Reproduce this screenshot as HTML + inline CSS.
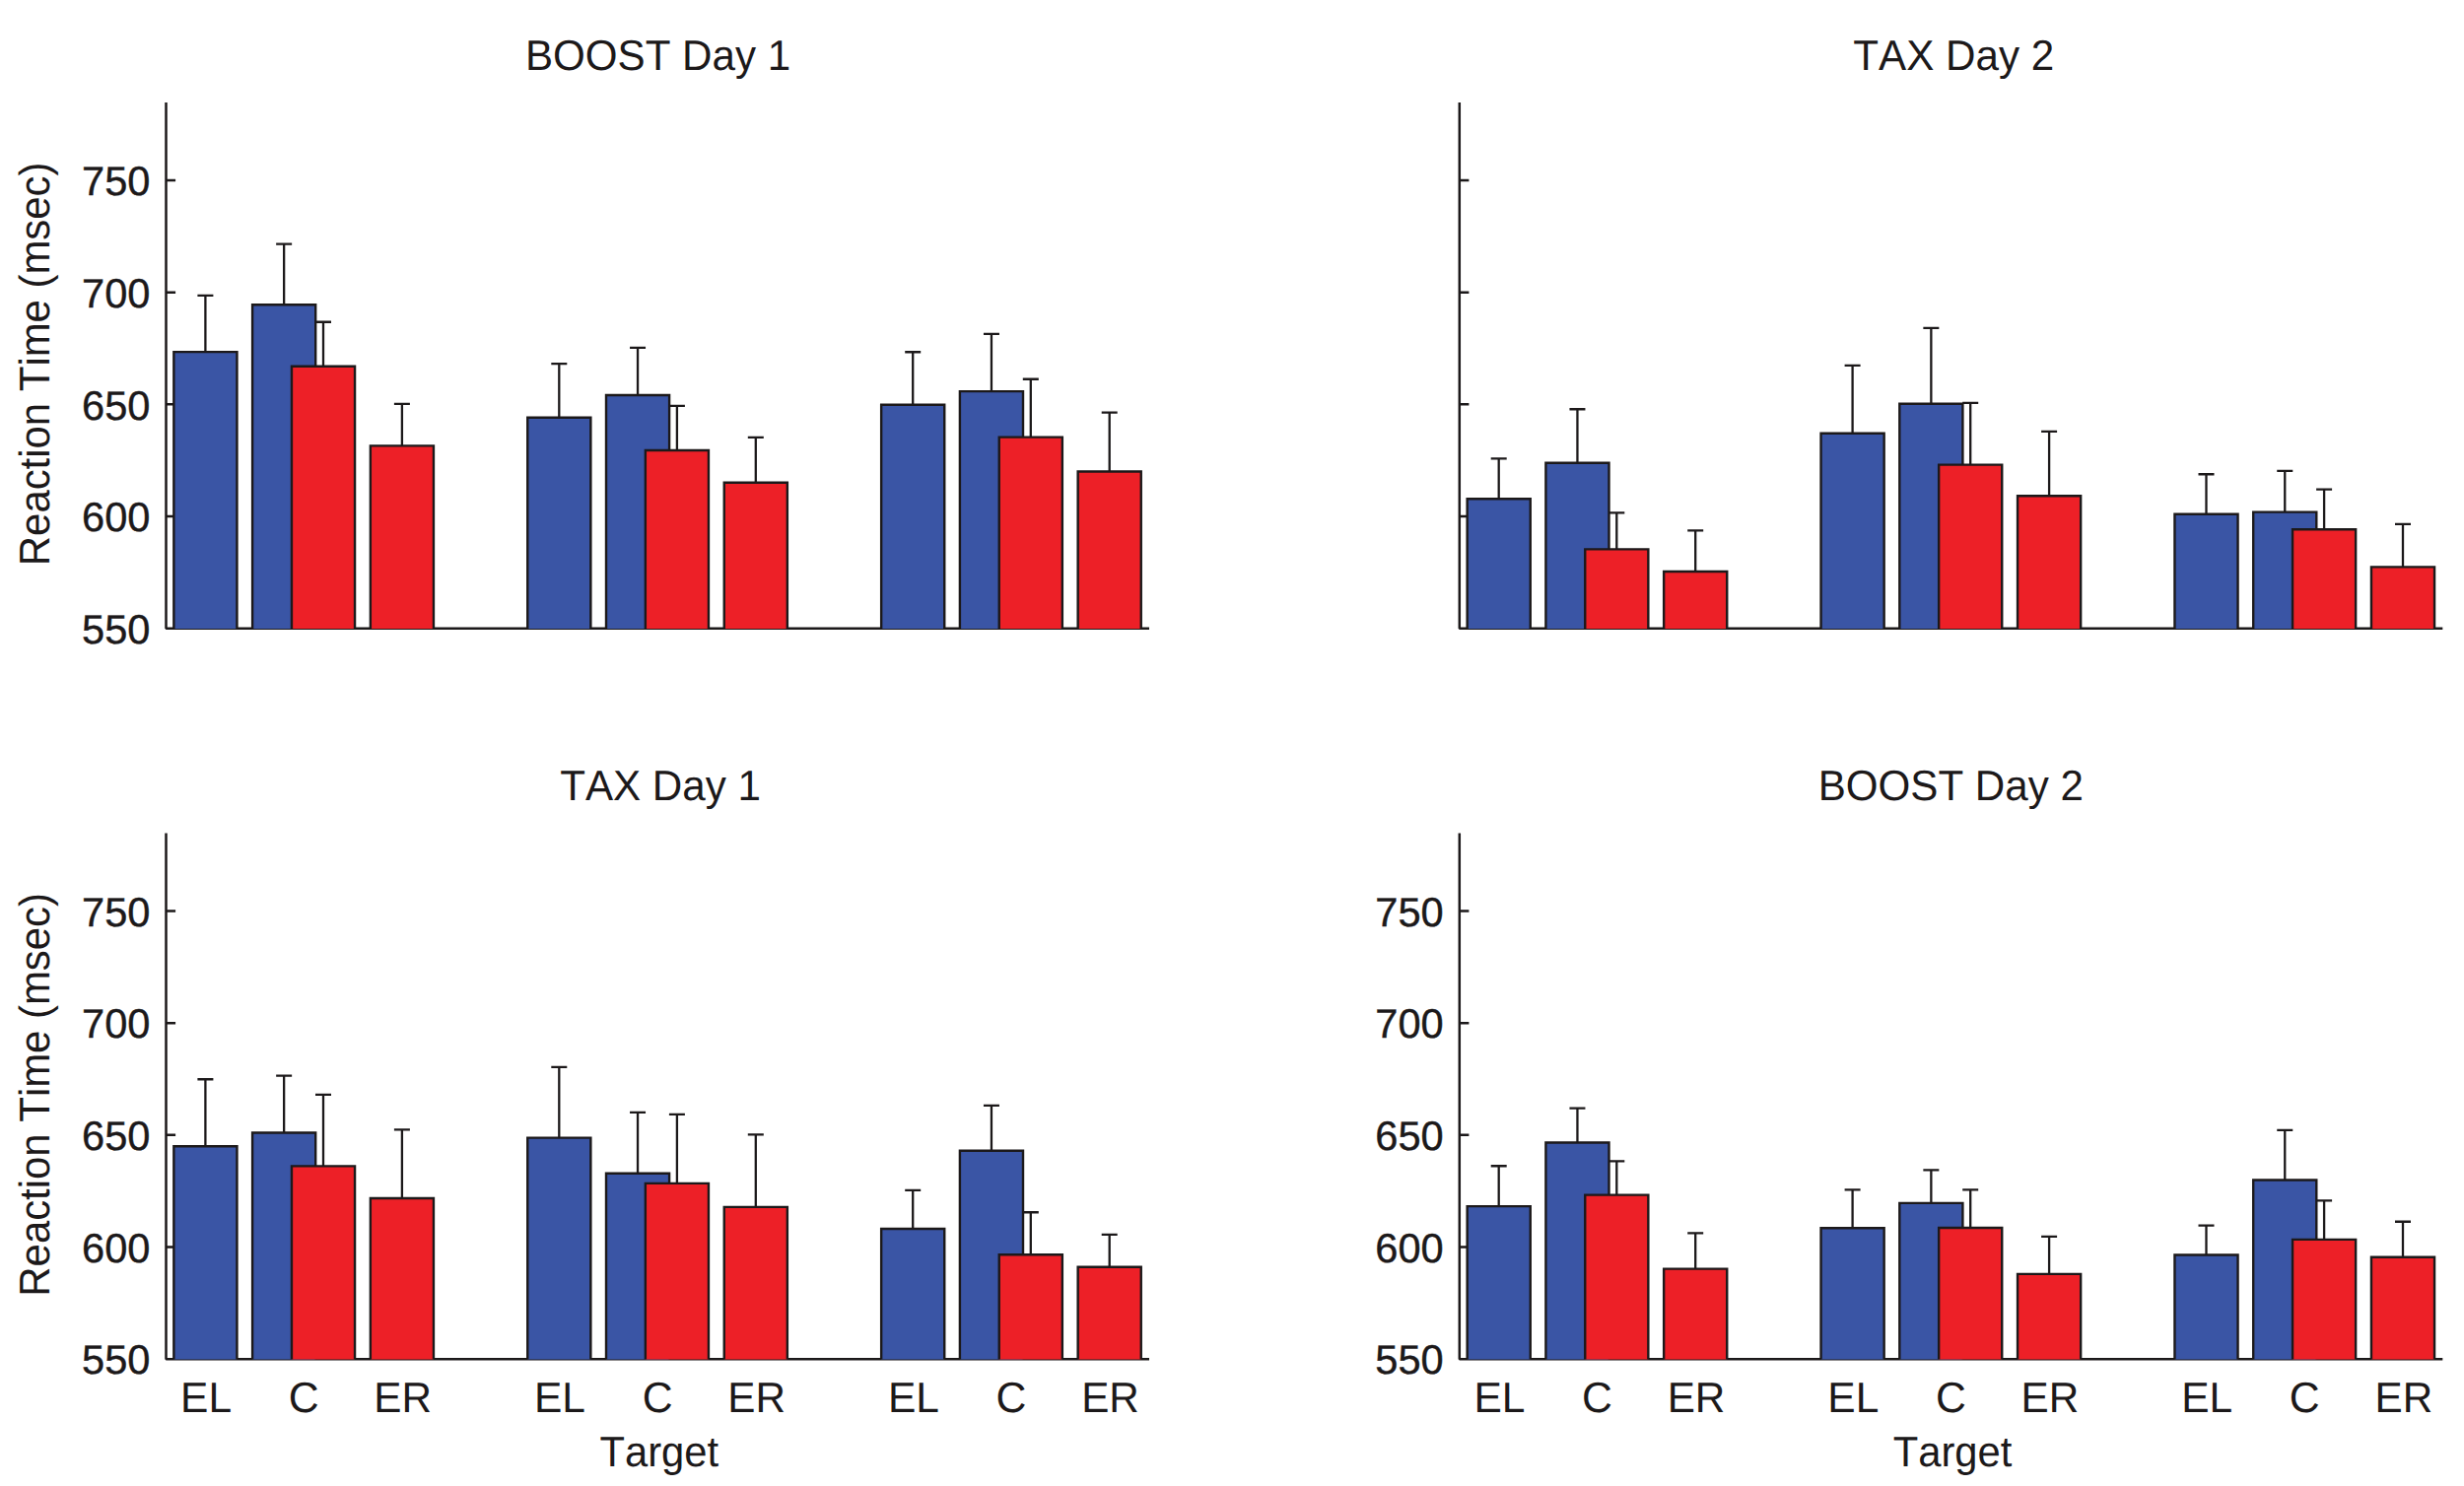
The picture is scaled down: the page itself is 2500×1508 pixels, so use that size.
<!DOCTYPE html>
<html lang="en"><head><meta charset="utf-8"><title>Reaction Time by Target</title>
<style>html,body{margin:0;padding:0;background:#fff}body{width:2500px;height:1508px;overflow:hidden}svg{display:block}text{font-family:"Liberation Sans",sans-serif;fill:#1c191a;stroke:#1c191a;stroke-width:0.5px;font-kerning:none;text-rendering:geometricPrecision}.l{font-size:43.4px;stroke-width:0px}.d{font-size:41.6px;stroke-width:0.4px}.ax{stroke:#1c191a;stroke-width:2.5;fill:none;stroke-linecap:butt;stroke-linejoin:bevel}.tk{stroke:#1c191a;stroke-width:2.4;fill:none}.b{fill:#3a55a5;stroke:#1c191a;stroke-width:2.4;stroke-linejoin:miter}.r{fill:#ed2027;stroke:#1c191a;stroke-width:2.4;stroke-linejoin:miter}.e{stroke:#1c191a;stroke-width:2.3;fill:none}</style></head><body>
<svg width="2500" height="1508" viewBox="0 0 2500 1508">
<rect width="2500" height="1508" fill="#fff"/>
<g>
<path class="ax" d="M168.5 103.9 V637.7 H1166"/>
<path class="tk" d="M168.5 183h9.6M168.5 296.7h9.6M168.5 410.3h9.6M168.5 524h9.6"/>
<path class="e" d="M208.4 357.1V299.95M200.4 299.95h16"/>
<path class="b" d="M176.35 638.1V357.1H240.45V638.1"/>
<path class="e" d="M567.3 423.8V369.15M559.3 369.15h16"/>
<path class="b" d="M535.25 638.1V423.8H599.35V638.1"/>
<path class="e" d="M926.2 410.7V357.25M918.2 357.25h16"/>
<path class="b" d="M894.15 638.1V410.7H958.25V638.1"/>
<path class="e" d="M288.15 309.2V247.55M280.15 247.55h16"/>
<path class="b" d="M256.1 638.1V309.2H320.2V638.1"/>
<path class="e" d="M647.05 401V352.85M639.05 352.85h16"/>
<path class="b" d="M615 638.1V401H679.1V638.1"/>
<path class="e" d="M1005.95 397.1V338.95M997.95 338.95h16"/>
<path class="b" d="M973.9 638.1V397.1H1038V638.1"/>
<path class="e" d="M328 371.8V326.75M320 326.75h16"/>
<path class="r" d="M295.95 638.1V371.8H360.05V638.1"/>
<path class="e" d="M686.9 457V411.85M678.9 411.85h16"/>
<path class="r" d="M654.85 638.1V457H718.95V638.1"/>
<path class="e" d="M1045.8 443.6V384.75M1037.8 384.75h16"/>
<path class="r" d="M1013.75 638.1V443.6H1077.85V638.1"/>
<path class="e" d="M407.9 452.4V409.85M399.9 409.85h16"/>
<path class="r" d="M375.85 638.1V452.4H439.95V638.1"/>
<path class="e" d="M766.8 489.7V443.95M758.8 443.95h16"/>
<path class="r" d="M734.75 638.1V489.7H798.85V638.1"/>
<path class="e" d="M1125.7 478.5V418.65M1117.7 418.65h16"/>
<path class="r" d="M1093.65 638.1V478.5H1157.75V638.1"/>
<text class="l" transform="translate(667.52 70.9) scale(0.9709 1)" text-anchor="middle">BOOST Day 1</text>
<text class="d" transform="translate(152.45 198.2) scale(1 1)" text-anchor="end">750</text>
<text class="d" transform="translate(152.45 311.9) scale(1 1)" text-anchor="end">700</text>
<text class="d" transform="translate(152.45 425.5) scale(1 1)" text-anchor="end">650</text>
<text class="d" transform="translate(152.45 539.2) scale(1 1)" text-anchor="end">600</text>
<text class="d" transform="translate(152.45 652.9) scale(1 1)" text-anchor="end">550</text>
<text class="l" transform="translate(49.5 369.34) rotate(-90) scale(0.9654 1)" text-anchor="middle">Reaction Time (msec)</text>
</g>
<g>
<path class="ax" d="M1480.8 103.9 V637.7 H2478.3"/>
<path class="tk" d="M1480.8 183h9.6M1480.8 296.7h9.6M1480.8 410.3h9.6M1480.8 524h9.6"/>
<path class="e" d="M1520.7 506.2V465.45M1512.7 465.45h16"/>
<path class="b" d="M1488.65 638.1V506.2H1552.75V638.1"/>
<path class="e" d="M1879.6 439.7V370.85M1871.6 370.85h16"/>
<path class="b" d="M1847.55 638.1V439.7H1911.65V638.1"/>
<path class="e" d="M2238.5 521.8V481.25M2230.5 481.25h16"/>
<path class="b" d="M2206.45 638.1V521.8H2270.55V638.1"/>
<path class="e" d="M1600.45 469.7V415.25M1592.45 415.25h16"/>
<path class="b" d="M1568.4 638.1V469.7H1632.5V638.1"/>
<path class="e" d="M1959.35 409.8V332.85M1951.35 332.85h16"/>
<path class="b" d="M1927.3 638.1V409.8H1991.4V638.1"/>
<path class="e" d="M2318.25 519.6V477.85M2310.25 477.85h16"/>
<path class="b" d="M2286.2 638.1V519.6H2350.3V638.1"/>
<path class="e" d="M1640.3 557.4V520.45M1632.3 520.45h16"/>
<path class="r" d="M1608.25 638.1V557.4H1672.35V638.1"/>
<path class="e" d="M1999.2 471.6V408.85M1991.2 408.85h16"/>
<path class="r" d="M1967.15 638.1V471.6H2031.25V638.1"/>
<path class="e" d="M2358.1 537.2V496.55M2350.1 496.55h16"/>
<path class="r" d="M2326.05 638.1V537.2H2390.15V638.1"/>
<path class="e" d="M1720.2 580V538.45M1712.2 538.45h16"/>
<path class="r" d="M1688.15 638.1V580H1752.25V638.1"/>
<path class="e" d="M2079.1 503.3V437.85M2071.1 437.85h16"/>
<path class="r" d="M2047.05 638.1V503.3H2111.15V638.1"/>
<path class="e" d="M2438 575.4V531.95M2430 531.95h16"/>
<path class="r" d="M2405.95 638.1V575.4H2470.05V638.1"/>
<text class="l" transform="translate(1982.25 70.9) scale(0.9716 1)" text-anchor="middle">TAX Day 2</text>
</g>
<g>
<path class="ax" d="M168.5 845.4 V1379.2 H1166"/>
<path class="tk" d="M168.5 924.5h9.6M168.5 1038.2h9.6M168.5 1151.8h9.6M168.5 1265.5h9.6"/>
<path class="e" d="M208.4 1163.2V1095.25M200.4 1095.25h16"/>
<path class="b" d="M176.35 1379.6V1163.2H240.45V1379.6"/>
<path class="e" d="M567.3 1154.6V1082.85M559.3 1082.85h16"/>
<path class="b" d="M535.25 1379.6V1154.6H599.35V1379.6"/>
<path class="e" d="M926.2 1247V1207.85M918.2 1207.85h16"/>
<path class="b" d="M894.15 1379.6V1247H958.25V1379.6"/>
<path class="e" d="M288.15 1149.5V1091.65M280.15 1091.65h16"/>
<path class="b" d="M256.1 1379.6V1149.5H320.2V1379.6"/>
<path class="e" d="M647.05 1190.7V1128.95M639.05 1128.95h16"/>
<path class="b" d="M615 1379.6V1190.7H679.1V1379.6"/>
<path class="e" d="M1005.95 1167.8V1121.85M997.95 1121.85h16"/>
<path class="b" d="M973.9 1379.6V1167.8H1038V1379.6"/>
<path class="e" d="M328 1183.4V1110.85M320 1110.85h16"/>
<path class="r" d="M295.95 1379.6V1183.4H360.05V1379.6"/>
<path class="e" d="M686.9 1200.9V1130.85M678.9 1130.85h16"/>
<path class="r" d="M654.85 1379.6V1200.9H718.95V1379.6"/>
<path class="e" d="M1045.8 1273.3V1230.25M1037.8 1230.25h16"/>
<path class="r" d="M1013.75 1379.6V1273.3H1077.85V1379.6"/>
<path class="e" d="M407.9 1216V1146.45M399.9 1146.45h16"/>
<path class="r" d="M375.85 1379.6V1216H439.95V1379.6"/>
<path class="e" d="M766.8 1224.9V1151.35M758.8 1151.35h16"/>
<path class="r" d="M734.75 1379.6V1224.9H798.85V1379.6"/>
<path class="e" d="M1125.7 1285.7V1252.95M1117.7 1252.95h16"/>
<path class="r" d="M1093.65 1379.6V1285.7H1157.75V1379.6"/>
<text class="l" transform="translate(670.05 812.4) scale(0.9716 1)" text-anchor="middle">TAX Day 1</text>
<text class="d" transform="translate(152.45 939.7) scale(1 1)" text-anchor="end">750</text>
<text class="d" transform="translate(152.45 1053.4) scale(1 1)" text-anchor="end">700</text>
<text class="d" transform="translate(152.45 1167) scale(1 1)" text-anchor="end">650</text>
<text class="d" transform="translate(152.45 1280.7) scale(1 1)" text-anchor="end">600</text>
<text class="d" transform="translate(152.45 1394.4) scale(1 1)" text-anchor="end">550</text>
<text class="l" transform="translate(49.5 1110.84) rotate(-90) scale(0.9654 1)" text-anchor="middle">Reaction Time (msec)</text>
<text class="l" transform="translate(209.1 1433.1) scale(0.9793 1)" text-anchor="middle">EL</text>
<text class="l" transform="translate(308.2 1433.1) scale(0.985 1)" text-anchor="middle">C</text>
<text class="l" transform="translate(408.7 1433.1) scale(0.9737 1)" text-anchor="middle">ER</text>
<text class="l" transform="translate(568 1433.1) scale(0.9793 1)" text-anchor="middle">EL</text>
<text class="l" transform="translate(667.1 1433.1) scale(0.985 1)" text-anchor="middle">C</text>
<text class="l" transform="translate(767.6 1433.1) scale(0.9737 1)" text-anchor="middle">ER</text>
<text class="l" transform="translate(926.9 1433.1) scale(0.9793 1)" text-anchor="middle">EL</text>
<text class="l" transform="translate(1026 1433.1) scale(0.985 1)" text-anchor="middle">C</text>
<text class="l" transform="translate(1126.5 1433.1) scale(0.9737 1)" text-anchor="middle">ER</text>
<text class="l" transform="translate(668.77 1487.9) scale(0.962 1)" text-anchor="middle">Target</text>
</g>
<g>
<path class="ax" d="M1480.8 845.4 V1379.2 H2478.3"/>
<path class="tk" d="M1480.8 924.5h9.6M1480.8 1038.2h9.6M1480.8 1151.8h9.6M1480.8 1265.5h9.6"/>
<path class="e" d="M1520.7 1224.1V1183.25M1512.7 1183.25h16"/>
<path class="b" d="M1488.65 1379.6V1224.1H1552.75V1379.6"/>
<path class="e" d="M1879.6 1246.2V1207.35M1871.6 1207.35h16"/>
<path class="b" d="M1847.55 1379.6V1246.2H1911.65V1379.6"/>
<path class="e" d="M2238.5 1273.5V1243.65M2230.5 1243.65h16"/>
<path class="b" d="M2206.45 1379.6V1273.5H2270.55V1379.6"/>
<path class="e" d="M1600.45 1159.5V1124.55M1592.45 1124.55h16"/>
<path class="b" d="M1568.4 1379.6V1159.5H1632.5V1379.6"/>
<path class="e" d="M1959.35 1220.9V1187.35M1951.35 1187.35h16"/>
<path class="b" d="M1927.3 1379.6V1220.9H1991.4V1379.6"/>
<path class="e" d="M2318.25 1197.5V1146.95M2310.25 1146.95h16"/>
<path class="b" d="M2286.2 1379.6V1197.5H2350.3V1379.6"/>
<path class="e" d="M1640.3 1212.6V1178.35M1632.3 1178.35h16"/>
<path class="r" d="M1608.25 1379.6V1212.6H1672.35V1379.6"/>
<path class="e" d="M1999.2 1246V1207.35M1991.2 1207.35h16"/>
<path class="r" d="M1967.15 1379.6V1246H2031.25V1379.6"/>
<path class="e" d="M2358.1 1257.9V1218.35M2350.1 1218.35h16"/>
<path class="r" d="M2326.05 1379.6V1257.9H2390.15V1379.6"/>
<path class="e" d="M1720.2 1287.6V1251.45M1712.2 1251.45h16"/>
<path class="r" d="M1688.15 1379.6V1287.6H1752.25V1379.6"/>
<path class="e" d="M2079.1 1292.9V1254.85M2071.1 1254.85h16"/>
<path class="r" d="M2047.05 1379.6V1292.9H2111.15V1379.6"/>
<path class="e" d="M2438 1275.7V1239.75M2430 1239.75h16"/>
<path class="r" d="M2405.95 1379.6V1275.7H2470.05V1379.6"/>
<text class="l" transform="translate(1979.3 812.4) scale(0.9709 1)" text-anchor="middle">BOOST Day 2</text>
<text class="d" transform="translate(1464.75 939.7) scale(1 1)" text-anchor="end">750</text>
<text class="d" transform="translate(1464.75 1053.4) scale(1 1)" text-anchor="end">700</text>
<text class="d" transform="translate(1464.75 1167) scale(1 1)" text-anchor="end">650</text>
<text class="d" transform="translate(1464.75 1280.7) scale(1 1)" text-anchor="end">600</text>
<text class="d" transform="translate(1464.75 1394.4) scale(1 1)" text-anchor="end">550</text>
<text class="l" transform="translate(1521.4 1433.1) scale(0.9793 1)" text-anchor="middle">EL</text>
<text class="l" transform="translate(1620.5 1433.1) scale(0.985 1)" text-anchor="middle">C</text>
<text class="l" transform="translate(1721 1433.1) scale(0.9737 1)" text-anchor="middle">ER</text>
<text class="l" transform="translate(1880.3 1433.1) scale(0.9793 1)" text-anchor="middle">EL</text>
<text class="l" transform="translate(1979.4 1433.1) scale(0.985 1)" text-anchor="middle">C</text>
<text class="l" transform="translate(2079.9 1433.1) scale(0.9737 1)" text-anchor="middle">ER</text>
<text class="l" transform="translate(2239.2 1433.1) scale(0.9793 1)" text-anchor="middle">EL</text>
<text class="l" transform="translate(2338.3 1433.1) scale(0.985 1)" text-anchor="middle">C</text>
<text class="l" transform="translate(2438.8 1433.1) scale(0.9737 1)" text-anchor="middle">ER</text>
<text class="l" transform="translate(1981.07 1487.9) scale(0.962 1)" text-anchor="middle">Target</text>
</g>
</svg></body></html>
